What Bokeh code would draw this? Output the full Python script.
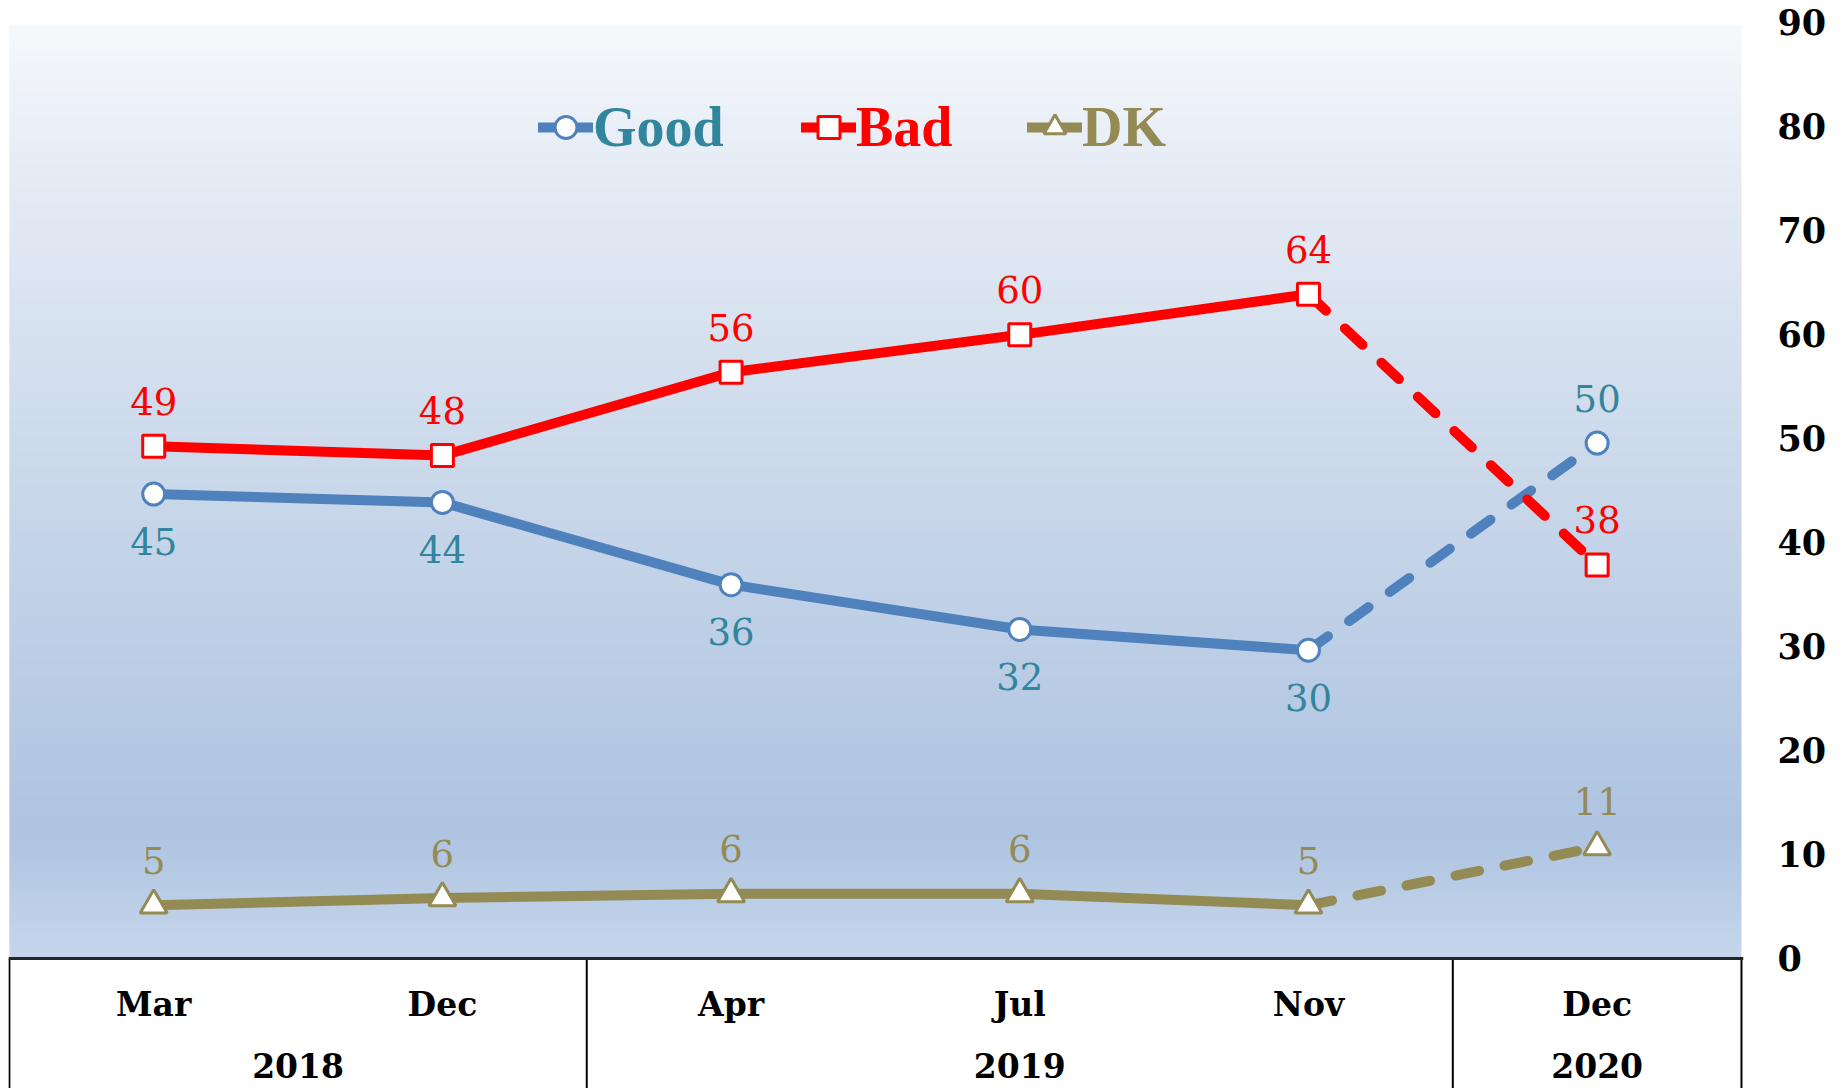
import numpy as np
from bokeh.plotting import figure
from bokeh.models import ColumnDataSource, Range1d, FixedTicker, Legend, LegendItem, Span
from bokeh.core.properties import value
from bokeh.embed import file_html
from bokeh.resources import INLINE

# ---------------- data ----------------
months = ["Mar", "Dec", "Apr", "Jul", "Nov", "Dec"]
years = ["2018", "2018", "2019", "2019", "2019", "2020"]
good = [44.6, 43.8, 35.9, 31.6, 29.6, 49.5]
bad = [49.2, 48.3, 56.3, 59.9, 63.8, 37.8]
dk = [5.1, 5.8, 6.2, 6.2, 5.1, 10.7]
yticks = [0, 10, 20, 30, 40, 50, 60, 70, 80, 90]

# ---------------- styles ----------------
SERIF = "DejaVu Serif"
GOOD_LINE = "#4f81bd"
GOOD_TEXT = "#31859c"
BAD_COL = "#ff0000"
DK_COL = "#948a54"

n = len(months)
xs = list(range(n))
# last point before the final (2020) period -> dashed segment afterwards
k = years.index(years[-1]) - 1

p = figure(frame_width=1735, frame_height=1067, output_backend="svg",
           toolbar_location=None, x_axis_location=None, y_axis_location="right",
           x_range=Range1d(-0.503, 5.507), y_range=Range1d(-12.5, 90))
p.min_border_top = 21
p.min_border_left = 8
p.min_border_bottom = 0
p.min_border_right = 10
p.outline_line_color = None
p.grid.visible = False
p.background_fill_color = "white"
p.border_fill_color = "white"

# gradient background for the plotting area (0 .. top)
top_val = 89.7
N = 400
stops_v = [0, 12, 47, 74, top_val]
stops_c = [(198, 215, 236), (174, 196, 225), (203, 217, 235), (228, 235, 245), (246, 249, 252)]
vv = np.linspace(0, top_val, N)
img = np.empty((N, 1), dtype=np.uint32)
view = img.view(dtype=np.uint8).reshape((N, 1, 4))
for ch in range(3):
    view[:, 0, ch] = np.interp(vv, stops_v, [c[ch] for c in stops_c]).astype(np.uint8)
view[:, 0, 3] = 255
p.image_rgba(image=[img], x=-0.5, y=0, dw=n, dh=top_val)

# table below the chart
p.add_layout(Span(location=0, dimension="width", line_color="#262626", line_width=3))
bounds = [-0.5] + [i + 0.5 for i in range(n - 1) if years[i] != years[i + 1]] + [n - 0.5]
p.segment(x0=bounds, y0=[0] * len(bounds), x1=bounds, y1=[p.y_range.start] * len(bounds),
          line_color="black", line_width=2)

p.text(x=xs, y=[0] * n, text=months, text_font=value(SERIF), text_font_style="bold",
       text_font_size="33px", text_align="center", text_baseline="middle",
       text_color="black", y_offset=46)
uyears = []
for yv in years:
    if yv not in uyears:
        uyears.append(yv)
ycent = [float(np.mean([i for i in xs if years[i] == yv])) for yv in uyears]
p.text(x=ycent, y=[0] * len(uyears), text=uyears, text_font=value(SERIF), text_font_style="bold",
       text_font_size="33px", text_align="center", text_baseline="middle",
       text_color="black", y_offset=107)


def series(vals, line_col, marker, msize, text_col, below):
    solid = p.line(xs[:k + 1], vals[:k + 1], line_color=line_col, line_width=10,
                   line_cap="round", line_join="round")
    p.line(xs[k:], vals[k:], line_color=line_col, line_width=10, line_cap="round",
           line_dash="24 26")
    m = p.scatter(xs, vals, marker=marker, size=msize, fill_color="white",
                  line_color=line_col, line_width=3)
    offs = [(47 if b else -45) for b in below]
    src = ColumnDataSource(dict(x=xs, y=vals, t=[str(int(v + 0.5)) for v in vals], o=offs))
    p.text(x="x", y="y", text="t", y_offset="o", source=src, text_font=value(SERIF),
           text_font_size="37px", text_align="center", text_baseline="middle",
           text_color=text_col)
    return solid, m


g_line, g_m = series(good, GOOD_LINE, "circle", 22, GOOD_TEXT, [i < n - 1 for i in xs])
b_line, b_m = series(bad, BAD_COL, "square", 22, BAD_COL, [False] * n)
d_line, d_m = series(dk, DK_COL, "triangle", 27, DK_COL, [False] * n)

# y axis on the right
ax = p.yaxis[0]
ax.ticker = FixedTicker(ticks=yticks)
ax.axis_line_color = None
ax.major_tick_line_color = None
ax.minor_tick_line_color = None
ax.major_label_standoff = 28
ax.major_label_text_font = SERIF
ax.major_label_text_font_style = "bold"
ax.major_label_text_font_size = "35px"
ax.major_label_text_color = "black"

# legends (one per series, own text colour)
for lab, rends, col, lx in [("Good", [g_line, g_m], GOOD_TEXT, 530),
                            ("Bad", [b_line, b_m], BAD_COL, 793),
                            ("DK", [d_line, d_m], DK_COL, 1019)]:
    lg = Legend(items=[LegendItem(label=lab, renderers=rends)], location=(lx, 929),
                orientation="horizontal", label_text_font="Liberation Serif",
                label_text_font_style="bold", label_text_font_size="56px",
                label_text_color=col, background_fill_alpha=0, border_line_alpha=0,
                padding=0, margin=0, glyph_width=55, glyph_height=60,
                label_standoff=0, spacing=0, label_height=60)
    p.add_layout(lg, "center")

open("out.html", "w").write(file_html(p, INLINE))
